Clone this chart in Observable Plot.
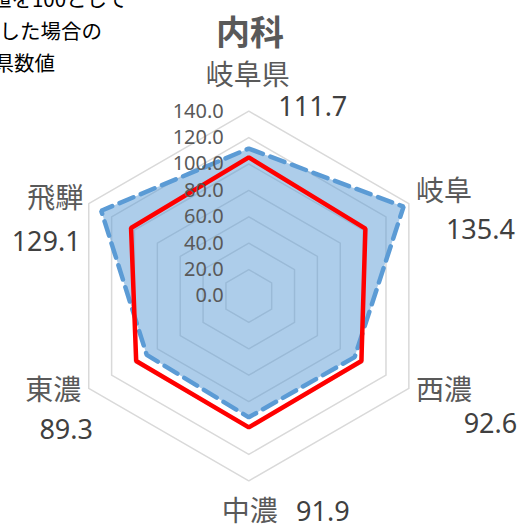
<!DOCTYPE html>
<html>
<head>
<meta charset="utf-8">
<script src="https://cdn.jsdelivr.net/npm/d3@7"></script>
<script src="https://cdn.jsdelivr.net/npm/@observablehq/plot@0.6"></script>
<style>
  html, body { margin: 0; padding: 0; background: #fff; }
  #wrap { position: relative; width: 522px; height: 526px; overflow: hidden; }
  .note { position: absolute; font-family: "Noto Sans CJK JP", sans-serif; font-size: 20.5px; line-height: 20px; color: #000; white-space: nowrap; text-align: right; }
  #title { position: absolute; left: 0; width: 500px; top: 11px; text-align: center; font-family: "Noto Sans CJK JP", sans-serif; font-weight: bold; font-size: 34px; line-height: 40px; color: #595959; }
  #chart { position: absolute; left: 0; top: 0; }
</style>
</head>
<body>
<div id="wrap">
  <div id="chart"></div>
  <div class="note" style="right:395px; top:-12px;">全国値を100として</div>
  <div class="note" style="right:420px; top:20px;">指数化した場合の</div>
  <div class="note" style="right:467px; top:52px;">岐阜県数値</div>
  <div id="title">内科</div>
</div>
<script>
// ---- data ----
const categories = ["岐阜県", "岐阜", "西濃", "中濃", "東濃", "飛騨"];
const values = [111.7, 135.4, 92.6, 91.9, 89.3, 129.1];
const reference = [105, 102, 98.5, 99.5, 98.5, 103];
const valueLabels = ["111.7", "135.4", "92.6", "91.9", "89.3", "129.1"];
const ticks = [0, 20, 40, 60, 80, 100, 120, 140];
const tickLabels = ["0.0", "20.0", "40.0", "60.0", "80.0", "100.0", "120.0", "140.0"];

// ---- layout ----
const W = 522, H = 526;
const cx = 248.3, cy = 295.5, k = 1.32; // center (px) and px per unit
const labelRadius = 165;
const catOffsets = [[-1, -2], [6.5, 4.5], [6.5, -13.5], [1, -2], [-7, -13.5], [-5, 12]];
const valueOffsets = [[64, 29], [43, 43], [53, 19.5], [74, -1], [6, 25.5], [-14, 55]];

const angle = i => (i * Math.PI * 2) / categories.length;
const pt = (i, v) => ({ x: v * Math.sin(angle(i)), y: v * Math.cos(angle(i)) });

const rings = [];
ticks.filter(t => t > 0).forEach(t => categories.forEach((c, i) => rings.push({ r: t, ...pt(i, t) })));
const series = categories.map((c, i) => ({ cat: c, ...pt(i, values[i]) }));
const refSeries = categories.map((c, i) => ({ cat: c, ...pt(i, reference[i]) }));
const catLabels = categories.map((c, i) => ({ cat: c, ...pt(i, labelRadius), dx: catOffsets[i][0], dy: catOffsets[i][1] }));
const valLabels = categories.map((c, i) => ({ label: valueLabels[i], ...pt(i, labelRadius), dx: valueOffsets[i][0], dy: valueOffsets[i][1] }));
const tickData = ticks.map((t, i) => ({ label: tickLabels[i], x: 0, y: t }));

const chart = Plot.plot({
  width: W,
  height: H,
  margin: 0,
  x: { domain: [-cx / k, (W - cx) / k], range: [0, W], axis: null },
  y: { domain: [(cy - H) / k, cy / k], range: [H, 0], axis: null },
  style: { background: "transparent" },
  marks: [
    Plot.line(rings, { x: "x", y: "y", z: "r", curve: "linear-closed", stroke: "#d9d9d9", strokeWidth: 1.5 }),
    Plot.line(series, { x: "x", y: "y", curve: "linear-closed", fill: "#5B9BD5", fillOpacity: 0.5, stroke: "none" }),
    Plot.line(series, { x: "x", y: "y", curve: "linear-closed", stroke: "#5B9BD5", strokeWidth: 4.5, strokeDasharray: "15,8", strokeLinejoin: "miter" }),
    Plot.line(refSeries, { x: "x", y: "y", curve: "linear-closed", stroke: "#FF0000", strokeWidth: 4.5, strokeLinejoin: "miter" }),
    Plot.text(tickData, { x: "x", y: "y", text: "label", dx: -25, textAnchor: "end", fontSize: 20, fill: "#595959", fontFamily: "Noto Sans, sans-serif" }),
    ...catLabels.map(d => Plot.text([d], { x: "x", y: "y", text: "cat", dx: d.dx, dy: d.dy, fontSize: 28, fill: "#595959", fontFamily: "Noto Sans CJK JP, sans-serif" })),
    ...valLabels.map(d => Plot.text([d], { x: "x", y: "y", text: "label", dx: d.dx, dy: d.dy, fontSize: 27, fill: "#404040", fontFamily: "Noto Sans, sans-serif" }))
  ]
});
document.getElementById("chart").appendChild(chart);
</script>
</body>
</html>
